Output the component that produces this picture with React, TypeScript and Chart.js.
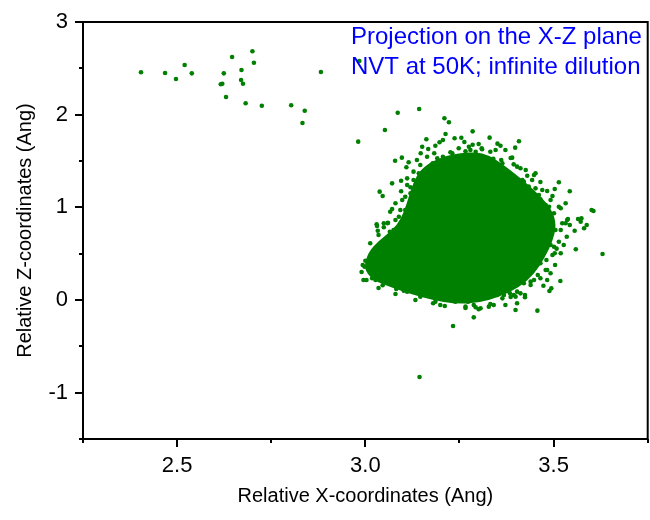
import { useEffect, useRef } from "react";
import { Chart, registerables } from "chart.js";

Chart.register(...registerables);

const FONT = "'Liberation Sans', Arial, Helvetica, sans-serif";
const GREEN = "#008000";

// Axis ticks (Angstrom)
const xMajorTicks = [2.5, 3.0, 3.5];
const xMinorTicks = [2.25, 2.75, 3.25, 3.75];
const xTickLabels = ["2.5", "3.0", "3.5"];
const yMajorTicks = [-1, 0, 1, 2, 3];
const yMinorTicks = [-1.5, -0.5, 0.5, 1.5, 2.5];
const yTickLabels = ["-1", "0", "1", "2", "3"];

const annotationLines = ["Projection on the X-Z plane", "NVT at 50K; infinite dilution"];

// Early positions, before the molecule settles into its site
const driftX = [2.404, 2.468, 2.497, 2.520, 2.539, 2.616, 2.620, 2.624, 2.630, 2.646, 2.670,
  2.671, 2.675, 2.682, 2.700, 2.704, 2.725, 2.803, 2.833, 2.839, 2.882, 2.984];
const driftZ = [2.457, 2.450, 2.385, 2.536, 2.446, 2.328, 2.334, 2.446, 2.191, 2.622, 2.374,
  2.482, 2.334, 2.123, 2.684, 2.561, 2.097, 2.101, 1.910, 2.043, 2.460, 2.579];

// Sampled positions around the adsorption site
const siteX = [
  // isolated excursions
  2.981, 3.052, 3.086, 3.143, 3.210, 3.222, 3.285, 3.330, 3.408, 3.630, 3.601,
  3.606, 3.559, 3.457, 3.233, 3.288, 3.399, 3.144, 3.046, 2.995, 2.990,
  // upper-left rim
  3.162, 3.213, 3.206, 3.197, 3.237, 3.255, 3.263, 3.301, 3.285, 3.151, 3.167,
  3.186, 3.147, 3.183, 3.191, 3.226, 3.266, 3.279, 3.097, 3.079, 3.115, 3.109,
  3.146, 3.128, 3.095, 3.071, 3.111, 3.111, 3.120, 3.095, 3.038, 3.046, 3.106,
  3.098, 3.071, 3.066, 3.106, 3.089, 3.060, 3.030,
  3.179, 3.206, 3.231, 3.248, 3.275, 3.293, 3.310, 3.164, 3.137, 3.128, 3.142,
  3.120, 3.133, 3.080, 3.115, 3.093, 3.080, 3.049,
  // upper-right rim
  3.351, 3.359, 3.372, 3.398, 3.309, 3.332, 3.340, 3.361, 3.364, 3.390, 3.335,
  3.394, 3.403, 3.412, 3.352, 3.372, 3.381, 3.448, 3.452, 3.430, 3.399, 3.417,
  3.421, 3.443, 3.514, 3.434, 3.452, 3.470, 3.483, 3.503, 3.543, 3.497, 3.492,
  3.461, 3.465, 3.532, 3.488, 3.514, 3.519, 3.501, 3.538, 3.565, 3.574, 3.523,
  3.532, 3.346, 3.386, 3.426, 3.465, 3.479,
  // lower-right rim
  3.536, 3.543, 3.572, 3.588, 3.581, 3.519, 3.556, 3.535, 3.514, 3.527, 3.501,
  3.508, 3.519, 3.497, 3.503, 3.481, 3.504, 3.465, 3.448, 3.483, 3.492, 3.458,
  3.465, 3.483, 3.518, 3.448, 3.439, 3.421, 3.473, 3.494, 3.489, 3.403, 3.412,
  3.424, 3.394, 3.399, 3.424, 3.384, 3.368, 3.364, 3.350, 3.403, 3.372, 3.341,
  3.328, 3.306, 3.505, 3.492, 3.479, 3.439, 3.386, 3.332,
  // lower-left rim
  3.059, 3.031, 3.049, 3.033, 3.035, 3.065, 3.075, 3.013, 3.040, 3.031, 3.022,
  3.000, 3.009, 2.993, 2.998, 3.011, 3.016, 3.018, 3.027, 3.082, 3.102, 3.111,
  3.146, 3.180, 3.186, 3.211, 3.239, 3.248, 3.266, 3.273, 3.288, 3.293, 3.301,
  3.266, 3.199, 3.133, 3.080, 3.035, 3.003,
];
const siteZ = [
  // isolated excursions
  1.709, 1.835, 2.021, 2.061, 1.961, 1.918, 1.820, 1.752, 1.713, 0.497, 0.971,
  0.960, 0.547, -0.115, -0.280, -0.187, -0.108, -0.831, 0.159, 0.216, 0.302,
  // upper-left rim
  1.734, 1.791, 1.727, 1.702, 1.745, 1.751, 1.705, 1.683, 1.676, 1.654, 1.630,
  1.665, 1.583, 1.583, 1.529, 1.594, 1.605, 1.619, 1.536, 1.503, 1.486, 1.432,
  1.457, 1.385, 1.287, 1.259, 1.313, 1.241, 1.216, 1.173, 1.169, 1.122, 1.115,
  1.079, 0.982, 0.953, 0.971, 0.899, 0.834, 0.817,
  1.475, 1.546, 1.583, 1.637, 1.654, 1.600, 1.626, 1.546, 1.511, 1.295, 1.367,
  1.152, 1.241, 1.044, 1.007, 0.971, 0.863, 0.828,
  // upper-right rim
  1.687, 1.665, 1.619, 1.644, 1.637, 1.600, 1.525, 1.511, 1.475, 1.536, 1.468,
  1.464, 1.439, 1.421, 1.403, 1.403, 1.367, 1.349, 1.367, 1.341, 1.277, 1.295,
  1.277, 1.295, 1.270, 1.223, 1.205, 1.187, 1.176, 1.198, 1.173, 1.122, 1.079,
  1.133, 1.087, 1.044, 1.007, 1.007, 0.990, 0.936, 0.874, 0.874, 0.882, 0.828,
  0.828, 1.619, 1.532, 1.403, 1.273, 1.025,
  // lower-right rim
  0.863, 0.809, 0.845, 0.809, 0.774, 0.755, 0.748, 0.683, 0.629, 0.594, 0.575,
  0.554, 0.504, 0.486, 0.504, 0.432, 0.378, 0.396, 0.378, 0.324, 0.288, 0.270,
  0.234, 0.216, 0.205, 0.216, 0.198, 0.180, 0.154, 0.126, 0.097, 0.090, 0.072,
  0.054, 0.054, 0.036, 0.029, 0.072, 0.054, 0.018, 0.054, -0.035, -0.054, -0.054,
  -0.072, -0.089, 0.755, 0.594, 0.324, 0.162, 0.032, -0.043,
  // lower-left rim
  0.828, 0.799, 0.785, 0.748, 0.702, 0.737, 0.755, 0.612, 0.594, 0.558, 0.504,
  0.424, 0.403, 0.378, 0.359, 0.331, 0.306, 0.234, 0.216, 0.119, 0.100, 0.090,
  0.036, -0.035, -0.018, -0.065, -0.018, 0.000, -0.072, -0.018, -0.054, -0.079, -0.100,
  -0.086, -0.054, 0.000, 0.065, 0.130, 0.216,
];

// Outline of the densely sampled region (thousands of overlapping frames)
const coreX = [2.995, 3.008, 3.035, 3.072, 3.093, 3.109, 3.122, 3.141, 3.173, 3.213, 3.253,
  3.293, 3.327, 3.364, 3.412, 3.457, 3.495, 3.508, 3.497, 3.476, 3.449, 3.407, 3.354,
  3.301, 3.239, 3.178, 3.120, 3.066, 3.019];
const coreZ = [0.345, 0.518, 0.637, 0.755, 0.863, 1.025, 1.209, 1.381, 1.489, 1.554, 1.586,
  1.597, 1.565, 1.468, 1.317, 1.155, 0.982, 0.809, 0.626, 0.453, 0.281, 0.130, 0.032,
  -0.032, -0.043, 0.000, 0.065, 0.140, 0.216];

const PLOT = { left: 83, top: 22, right: 648, bottom: 439 };

const toPoints = (xs: number[], zs: number[]) => xs.map((x, i) => ({ x, y: zs[i] }));

const corePlugin = {
  id: "denseCore",
  beforeDatasetsDraw(chart: any) {
    const { ctx, chartArea: a, scales } = chart;
    const pts = coreX.map((x, i) => [scales.x.getPixelForValue(x), scales.y.getPixelForValue(coreZ[i])]);
    const n = pts.length;
    const mid = (p: number[], q: number[]) => [(p[0] + q[0]) / 2, (p[1] + q[1]) / 2];
    ctx.save();
    ctx.beginPath();
    ctx.rect(a.left, a.top, a.right - a.left, a.bottom - a.top);
    ctx.clip();
    ctx.beginPath();
    const start = mid(pts[n - 1], pts[0]);
    ctx.moveTo(start[0], start[1]);
    for (let i = 0; i < n; i++) {
      const m = mid(pts[i], pts[(i + 1) % n]);
      ctx.quadraticCurveTo(pts[i][0], pts[i][1], m[0], m[1]);
    }
    ctx.closePath();
    ctx.fillStyle = GREEN;
    ctx.fill();
    ctx.restore();
  },
};

const framePlugin = {
  id: "frameTicks",
  afterDraw(chart: any) {
    const { ctx, chartArea: a, scales } = chart;
    ctx.save();
    ctx.strokeStyle = "#000";
    ctx.lineWidth = 2;
    ctx.lineCap = "square";
    ctx.strokeRect(a.left, a.top, a.right - a.left, a.bottom - a.top);
    ctx.lineCap = "butt";
    ctx.beginPath();
    const xTick = (v: number, len: number) => {
      const p = Math.round(scales.x.getPixelForValue(v));
      ctx.moveTo(p, a.bottom);
      ctx.lineTo(p, a.bottom + len);
    };
    const yTick = (v: number, len: number) => {
      const p = Math.round(scales.y.getPixelForValue(v));
      ctx.moveTo(a.left, p);
      ctx.lineTo(a.left - len, p);
    };
    xMajorTicks.forEach((v) => xTick(v, 8));
    xMinorTicks.forEach((v) => xTick(v, 4));
    yMajorTicks.forEach((v) => yTick(v, 8));
    yMinorTicks.forEach((v) => yTick(v, 4));
    ctx.stroke();

    ctx.fillStyle = "#0000ff";
    ctx.font = `24px ${FONT}`;
    ctx.textAlign = "left";
    ctx.textBaseline = "alphabetic";
    annotationLines.forEach((t, i) => ctx.fillText(t, a.left + 268, a.top + 22 + i * 29.5));
    ctx.restore();
  },
};

export default function App() {
  const ref = useRef<HTMLCanvasElement>(null);

  useEffect(() => {
    if (!ref.current) return;
    const chart = new Chart(ref.current, {
      type: "scatter",
      data: {
        datasets: [
          {
            label: "drift",
            data: toPoints(driftX, driftZ),
            backgroundColor: GREEN,
            borderWidth: 0,
            pointRadius: 2.3,
            pointHoverRadius: 2.3,
          },
          {
            label: "site",
            data: toPoints(siteX, siteZ),
            backgroundColor: GREEN,
            borderWidth: 0,
            pointRadius: 2.3,
            pointHoverRadius: 2.3,
          },
        ],
      },
      options: {
        animation: false,
        responsive: true,
        maintainAspectRatio: false,
        events: [],
        layout: { padding: { top: PLOT.top, right: 650 - PLOT.right, left: 0, bottom: 0 } },
        plugins: { legend: { display: false }, tooltip: { enabled: false } },
        scales: {
          x: {
            type: "linear",
            min: 2.25,
            max: 3.75,
            afterBuildTicks: (s: any) => {
              s.ticks = xMajorTicks.map((v) => ({ value: v }));
            },
            afterFit: (s: any) => {
              s.height = 520 - PLOT.bottom;
            },
            grid: { display: false, drawTicks: false },
            border: { display: false },
            ticks: {
              autoSkip: false,
              maxRotation: 0,
              color: "#000",
              padding: 14,
              font: { size: 22, family: FONT },
              callback: (v: any) => xTickLabels[xMajorTicks.indexOf(Number(v))] ?? "",
            },
            title: {
              display: true,
              text: "Relative X-coordinates (Ang)",
              color: "#000",
              font: { size: 20, family: FONT },
              padding: { top: 0, bottom: 12 },
            },
          },
          y: {
            type: "linear",
            min: -1.5,
            max: 3,
            afterBuildTicks: (s: any) => {
              s.ticks = yMajorTicks.map((v) => ({ value: v }));
            },
            afterFit: (s: any) => {
              s.width = PLOT.left;
            },
            // tick marks are drawn by the frame plugin; this only reserves the gap before the labels
            grid: {
              display: true,
              drawOnChartArea: false,
              drawTicks: true,
              tickLength: 11,
              tickColor: "rgba(0,0,0,0)",
            },
            border: { display: false },
            ticks: {
              autoSkip: false,
              color: "#000",
              padding: 4,
              font: { size: 22, family: FONT },
              callback: (v: any) => yTickLabels[yMajorTicks.indexOf(Number(v))] ?? "",
            },
            title: {
              display: true,
              text: "Relative Z-coordinates (Ang)",
              color: "#000",
              font: { size: 20, family: FONT },
              padding: { top: 13, bottom: 0 },
            },
          },
        },
      },
      plugins: [corePlugin, framePlugin],
    });
    return () => chart.destroy();
  }, []);

  return (
    <div style={{ position: "absolute", left: 0, top: 0, width: 650, height: 520 }}>
      <canvas ref={ref} />
    </div>
  );
}
